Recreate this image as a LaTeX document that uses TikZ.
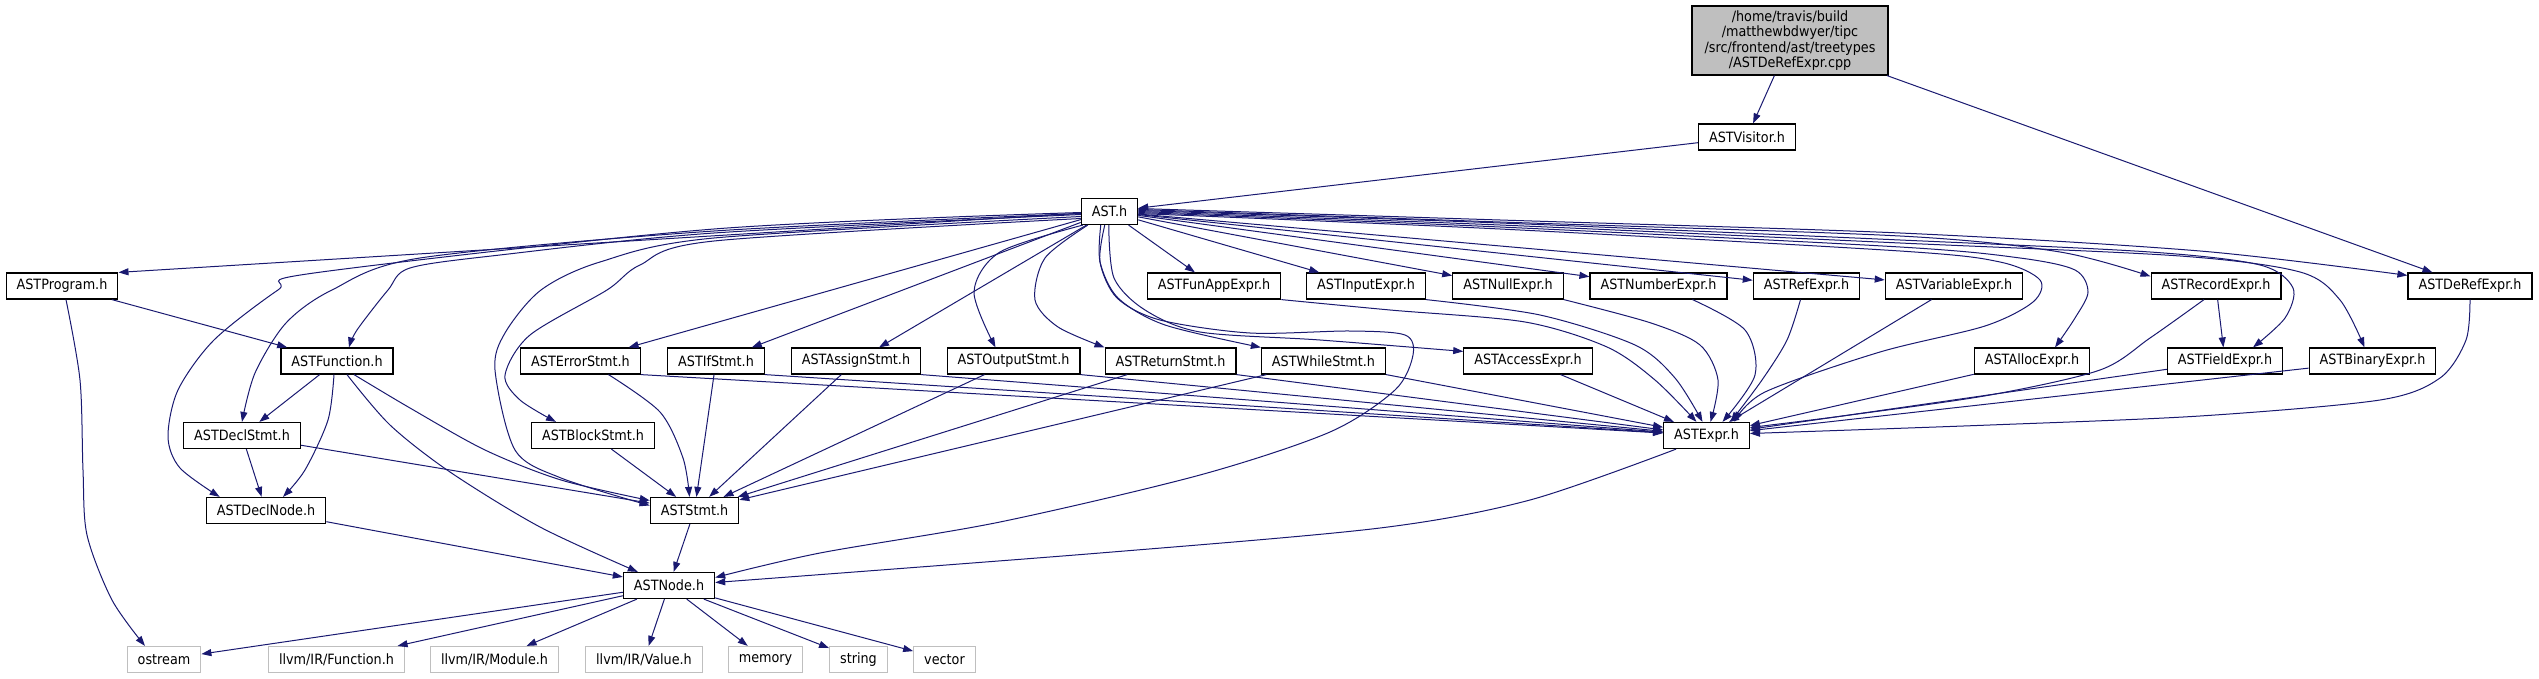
\documentclass[tikz,border=0pt]{standalone}
\usepackage{fontspec}
\usepackage{tikz}
\usetikzlibrary{arrows.meta}
\newfontfamily\dotfont{DejaVu Sans}[FakeStretch=0.9]
\newcommand{\dotsize}{\fontsize{14.2pt}{15.2pt}\selectfont}
\definecolor{edgeblue}{HTML}{191970}
\definecolor{rootgrey}{HTML}{BFBFBF}
\definecolor{sysgrey}{HTML}{BFBFBF}
\tikzset{
    hdr/.style={
        draw=black,
        line width=1.2pt,
        fill=white,
        font=\dotfont\dotsize,
        inner xsep=10.5pt,
        inner ysep=0pt,
        minimum height=26pt
    },
    mainfile/.style={
        hdr,
        fill=rootgrey,
        align=center,
        minimum width=196pt,
        minimum height=69pt
    },
    sysfile/.style={
        hdr,
        draw=sysgrey
    },
    dep/.style={-{Triangle[length=10pt,width=7pt]}, draw=edgeblue, line width=1pt}
}

\begin{document}
\begin{tikzpicture}[x=1pt, y=-1pt]
\useasboundingbox (0,0) rectangle (2539,679);

% FILE AND DIRECT INCLUDES
\node[mainfile] (root) at (1790,40.5)
{/home/travis/build\\/matthewbdwyer/tipc\\/src/frontend/ast/treetypes\\/ASTDeRefExpr.cpp};
\node[hdr] (visitor) at (1747,137) {ASTVisitor.h};
\node[hdr] (ast) at (1109.5,211.5) {AST.h};

% ROW UNDER AST.h
\node[hdr] (program) at (62,286) {ASTProgram.h};
\node[hdr] (funapp) at (1214,286) {ASTFunAppExpr.h};
\node[hdr] (input) at (1366,286) {ASTInputExpr.h};
\node[hdr] (null) at (1508,286) {ASTNullExpr.h};
\node[hdr] (number) at (1658.5,286) {ASTNumberExpr.h};
\node[hdr] (ref) at (1806.5,286) {ASTRefExpr.h};
\node[hdr] (variable) at (1954,286) {ASTVariableExpr.h};
\node[hdr] (record) at (2216,286) {ASTRecordExpr.h};
\node[hdr] (deref) at (2470,286) {ASTDeRefExpr.h};

% STATEMENTS AND MORE EXPRESSIONS
\node[hdr] (function) at (337,361) {ASTFunction.h};
\node[hdr] (errorstmt) at (580.5,361) {ASTErrorStmt.h};
\node[hdr] (ifstmt) at (716,361) {ASTIfStmt.h};
\node[hdr] (assign) at (856,361) {ASTAssignStmt.h};
\node[hdr] (output) at (1013.5,361) {ASTOutputStmt.h};
\node[hdr] (return) at (1170.5,361) {ASTReturnStmt.h};
\node[hdr] (while) at (1323.5,361) {ASTWhileStmt.h};
\node[hdr] (access) at (1528,361) {ASTAccessExpr.h};
\node[hdr] (alloc) at (2032,361) {ASTAllocExpr.h};
\node[hdr] (field) at (2225,361) {ASTFieldExpr.h};
\node[hdr] (binary) at (2372.5,361) {ASTBinaryExpr.h};

\node[hdr] (declstmt) at (242,435.5) {ASTDeclStmt.h};
\node[hdr] (blockstmt) at (593,435.5) {ASTBlockStmt.h};
\node[hdr] (expr) at (1706.5,435.5) {ASTExpr.h};

\node[hdr] (declnode) at (266,510.5) {ASTDeclNode.h};
\node[hdr] (stmt) at (694.5,510.5) {ASTStmt.h};
\node[hdr] (node) at (669,585.5) {ASTNode.h};

% SYSTEM HEADERS
\node[sysfile] (ostream) at (164,659.5) {ostream};
\node[sysfile] (llvmfunc) at (336.5,659.5) {llvm/IR/Function.h};
\node[sysfile] (llvmmod) at (494.5,659.5) {llvm/IR/Module.h};
\node[sysfile] (llvmval) at (644,659.5) {llvm/IR/Value.h};
\node[sysfile] (memory) at (765.5,659.5) {memory};
\node[sysfile] (string) at (858.5,659.5) {string};
\node[sysfile] (vector) at (944.5,659.5) {vector};

% TOP EDGES
\draw[dep] (root) -- (visitor);
\draw[dep] (root) -- (deref);
\draw[dep] (visitor) -- (ast);

% AST.h TO THE LEFT
\draw[dep] (ast) -- (program.north east);
\draw[dep] plot[smooth] coordinates {([yshift=-1pt]ast.west) (714,229) (314,273) (278,290) (214,340) (178,390) (168,437) (180,468) ([xshift=14pt]declnode.north west)};
\draw[dep] plot[smooth] coordinates {([yshift=-2pt]ast.west) (714,231) (420,258) (332,290) (286,323) (255,373) (declstmt.north)};
\draw[dep] plot[smooth] coordinates {([yshift=-3pt]ast.west) (714,233) (500,255) (410,268) (388,290) (357,330) ([xshift=12pt]function.north)};
\draw[dep] plot[smooth] coordinates {([yshift=-5pt]ast.west) (714,238) (600,262) (541,290) (505,333) (495,370) (515,450) (561,478) ([yshift=5pt]stmt.west)};
\draw[dep] plot[smooth] coordinates {([yshift=-7pt]ast.west) (714,241) (640,265) (607,290) (530,335) (505,375) (520,400) ([xshift=-37pt]blockstmt.north)};
\draw[dep] (ast) -- (errorstmt);
\draw[dep] (ast) -- (ifstmt);
\draw[dep] (ast) -- (assign);
\draw[dep] plot[smooth] coordinates {([xshift=2pt]ast.south west) (1000,252) (974,292) ([xshift=-18pt]output.north)};
\draw[dep] plot[smooth] coordinates {([xshift=7pt]ast.south west) (1045,258) (1035,300) (1058,327) (return.north west)};
\draw[dep] plot[smooth] coordinates {([xshift=20pt]ast.south west) (1100,262) (1118,298) (1165,325) (while.north west)};
\draw[dep] plot[smooth] coordinates {([xshift=24pt]ast.south west) (1100,262) (1117,298) (1160,320) (1250,333) (1350,331) (1405,335) (1413,355) (1395,390) (1330,432) (1200,475) (1000,522) (820,553) ([yshift=8pt]node.east)};
\draw[dep] plot[smooth] coordinates {([xshift=28pt]ast.south west) (1114,278) (1145,310) (1200,332) (1320,340) ([yshift=-4pt]access.north west)};

% AST.h TO THE RIGHT
\draw[dep] (ast) -- (funapp);
\draw[dep] (ast) -- (input);
\draw[dep] (ast) -- (null);
\draw[dep] (ast) -- (number);
\draw[dep] (ast) -- (ref);
\draw[dep] (ast) -- (variable);
\draw[dep] plot[smooth] coordinates {([yshift=3pt]ast.east) (1500,220) (1900,233) (2200,251) ([yshift=-3pt]deref.north west)};
\draw[dep] plot[smooth] coordinates {([yshift=2pt]ast.east) (1500,222) (1900,236) (2060,252) ([yshift=-4pt]record.north west)};
\draw[dep] plot[smooth] coordinates {([yshift=1pt]ast.east) (1500,223) (1900,240) (2150,252) (2260,265) (2293,288) (2285,318) ([xshift=28pt]field.north)};
\draw[dep] plot[smooth] coordinates {(ast.east) (1500,225) (1900,243) (2180,256) (2300,272) (2340,300) ([xshift=-8pt]binary.north)};
\draw[dep] plot[smooth] coordinates {([yshift=-1pt]ast.east) (1500,227) (1900,247) (2020,258) (2075,270) (2088,292) (2075,318) ([xshift=23pt]alloc.north)};
\draw[dep] plot[smooth] coordinates {([yshift=-2pt]ast.east) (1500,229) (1900,251) (2000,262) (2040,280) (2033,302) (1985,326) (1880,352) (1765,392) ([xshift=28pt]expr.north)};

% INTO ASTExpr.h
\draw[dep] plot[smooth] coordinates {(funapp.south east) (1390,310) (1525,322) (1607,347) (1655,380) ([xshift=-10pt]expr.north)};
\draw[dep] plot[smooth] coordinates {(input.south east) (1540,315) (1635,345) (1675,378) ([xshift=-4pt]expr.north)};
\draw[dep] plot[smooth] coordinates {(null.south east) (1651,323) (1700,345) (1718,380) ([xshift=4pt]expr.north)};
\draw[dep] plot[smooth] coordinates {([xshift=34pt]number.south) (1745,330) (1755,375) ([xshift=16pt]expr.north)};
\draw[dep] plot[smooth] coordinates {([xshift=-6pt]ref.south) (1787,340) (1762,380) ([xshift=24pt]expr.north)};
\draw[dep] (variable) -- (expr);
\draw[dep] (alloc) -- (expr);
\draw[dep] plot[smooth] coordinates {([xshift=-12pt]record.south) (2150,338) (2100,370) (1990,395) (1850,415) ([yshift=8pt]expr.east)};
\draw[dep] (record) -- (field);
\draw[dep] (field) -- (expr);
\draw[dep] (binary) -- (expr);
\draw[dep] plot[smooth] coordinates {(deref.south) (2466,340) (2440,378) (2380,400) (2200,416) (1990,425) ([yshift=2pt]expr.east)};
\draw[dep] (access) -- (expr);
\draw[dep] (errorstmt.south east) -- (expr);
\draw[dep] (ifstmt.south east) -- (expr);
\draw[dep] (assign.south east) -- (expr);
\draw[dep] (output.south east) -- (expr);
\draw[dep] (return.south east) -- (expr);
\draw[dep] (while.south east) -- (expr);

% LEFT PART
\draw[dep] (program) -- (function);
\draw[dep] plot[smooth] coordinates {([xshift=4pt]program.south) (80,380) (83,470) (87,535) (112,600) ([xshift=-19pt]ostream.north)};
\draw[dep] (function) -- (declstmt);
\draw[dep] plot[smooth] coordinates {([xshift=-3pt]function.south) (328,420) (305,470) ([xshift=17pt]declnode.north)};
\draw[dep] plot[smooth] coordinates {([xshift=17pt]function.south) (410,408) (485,450) (561,480) ([yshift=10pt]stmt.west)};
\draw[dep] plot[smooth] coordinates {([xshift=10pt]function.south) (390,425) (450,472) (540,527) ([xshift=15pt]node.north west)};
\draw[dep] (declstmt) -- (declnode);
\draw[dep] (declstmt) -- (stmt);
\draw[dep] (declnode) -- (node);

% INTO ASTStmt.h
\draw[dep] (blockstmt) -- (stmt);
\draw[dep] plot[smooth] coordinates {([xshift=28pt]errorstmt.south) (660,412) (683,458) ([xshift=-5pt]stmt.north)};
\draw[dep] (ifstmt) -- (stmt);
\draw[dep] (assign) -- (stmt);
\draw[dep] (output) -- (stmt);
\draw[dep] (return) -- (stmt);
\draw[dep] (while) -- (stmt);

% INTO ASTNode.h
\draw[dep] (stmt) -- (node);
\draw[dep] plot[smooth] coordinates {([xshift=13pt]expr.south west) (1530,500) (1380,528) (1100,553) ([yshift=3pt]node.east)};

% ASTNode.h INCLUDES
\foreach \sys in {ostream,llvmfunc,llvmmod,llvmval,memory,string,vector}
    \draw[dep] (node) -- (\sys);

\end{tikzpicture}
\end{document}
